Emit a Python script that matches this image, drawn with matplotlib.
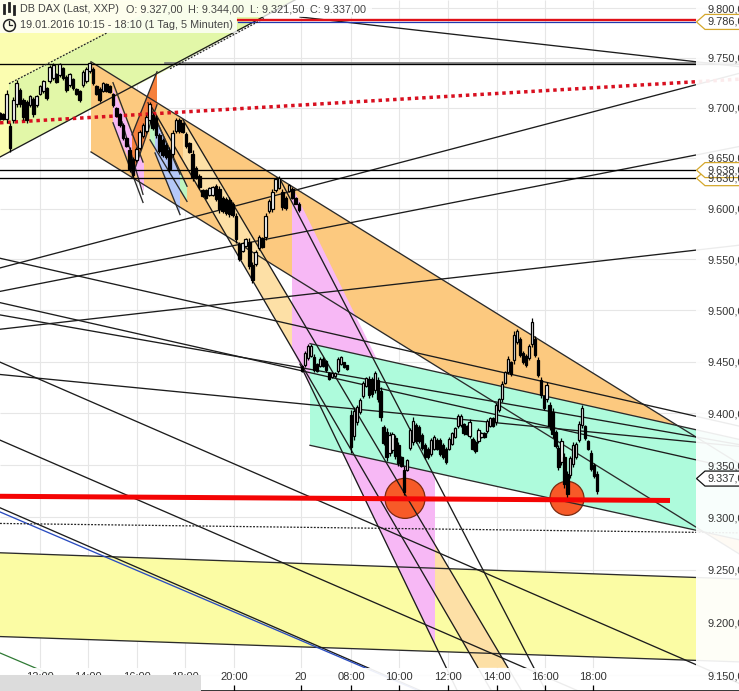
"""DAX 5-minute candle chart with hand drawn channels and trend lines."""

import matplotlib

matplotlib.use("Agg")
import matplotlib.pyplot as plt
import numpy as np
from matplotlib.patches import Polygon, Rectangle
from matplotlib.ticker import NullLocator

WIDTH, HEIGHT = 739, 691
PLOT_RIGHT = 696
OUT_LIMIT = 790

# price scale
price_ticks = [9800, 9750, 9700, 9650, 9600, 9550, 9500, 9450, 9400, 9350, 9300, 9250, 9200, 9150]
price_labels = ["9.800,00", "9.750,00", "9.700,00", "9.650,00", "9.600,00", "9.550,00", "9.500,00",
                "9.450,00", "9.400,00", "9.350,00", "9.300,00", "9.250,00", "9.200,00", "9.150,00"]
# session axis, one unit is a little under half of a 5 minute bar
time_ticks = [40, 88, 137, 185, 234, 301, 351, 399, 448, 497, 545, 593]
time_labels = ["12:00", "14:00", "16:00", "18:00", "20:00", "20", "08:00", "10:00", "12:00", "14:00", "16:00", "18:00"]

# candles, 18 Jan
highs_day1 = [9696, 9695, 9718, 9685, 9711, 9728, 9720, 9710, 9708, 9713, 9711, 9713, 9723, 9728, 9721, 9743,
              9745, 9735, 9745, 9741, 9733, 9735, 9730, 9720, 9718, 9738, 9741, 9746, 9741, 9723, 9721, 9726,
              9725, 9723, 9715, 9701, 9695, 9685, 9671, 9661, 9651, 9661, 9678, 9685, 9693, 9706, 9695, 9693,
              9675, 9670, 9665, 9661, 9678, 9690, 9690, 9686, 9676, 9666, 9658, 9642, 9634, 9619, 9619, 9621,
              9622, 9624, 9622, 9612, 9611, 9611, 9606, 9596, 9567, 9567, 9571, 9571, 9547, 9559, 9574, 9572,
              9596, 9609, 9619, 9631, 9632, 9619, 9612, 9624, 9621, 9611, 9606]
lows_day1 = [9688, 9688, 9685, 9656, 9685, 9701, 9701, 9688, 9685, 9701, 9691, 9701, 9713, 9715, 9708, 9725,
             9728, 9725, 9731, 9728, 9716, 9721, 9718, 9713, 9706, 9721, 9725, 9735, 9723, 9713, 9706, 9716,
             9716, 9715, 9701, 9691, 9681, 9668, 9661, 9636, 9631, 9646, 9658, 9670, 9675, 9685, 9678, 9670,
             9655, 9651, 9649, 9636, 9651, 9675, 9675, 9675, 9660, 9655, 9627, 9629, 9619, 9611, 9609, 9612,
             9612, 9607, 9596, 9596, 9594, 9592, 9592, 9566, 9548, 9557, 9562, 9540, 9527, 9543, 9559, 9561,
             9569, 9596, 9597, 9616, 9619, 9599, 9599, 9616, 9609, 9604, 9597]

# candles, 19 Jan pre-market
highs_early = [9447, 9460, 9467, 9467, 9457, 9449, 9454, 9454, 9452, 9440, 9440, 9440, 9454, 9455, 9450, 9447]
lows_early = [9440, 9445, 9452, 9454, 9440, 9440, 9445, 9445, 9440, 9432, 9434, 9435, 9439, 9447, 9444, 9442]

# candles, 19 Jan from the open
highs_main = [9403, 9406, 9408, 9415, 9431, 9435, 9436, 9435, 9441, 9435, 9425, 9389, 9386, 9382, 9382, 9379,
              9372, 9359, 9349, 9356, 9386, 9396, 9391, 9389, 9381, 9371, 9367, 9376, 9379, 9376, 9376, 9371,
              9367, 9377, 9382, 9387, 9399, 9399, 9391, 9389, 9394, 9377, 9374, 9386, 9382, 9382, 9394, 9396,
              9396, 9410, 9415, 9431, 9441, 9455, 9451, 9480, 9482, 9474, 9460, 9457, 9467, 9492, 9475, 9454,
              9435, 9418, 9430, 9411, 9405, 9384, 9369, 9376, 9362, 9344, 9359, 9372, 9372, 9392, 9408, 9389,
              9374, 9364, 9352, 9344]
lows_main = [9362, 9374, 9389, 9399, 9415, 9425, 9415, 9416, 9420, 9411, 9392, 9369, 9354, 9359, 9362, 9356,
             9349, 9348, 9321, 9344, 9364, 9369, 9371, 9371, 9364, 9356, 9356, 9359, 9364, 9364, 9359, 9356,
             9351, 9364, 9369, 9376, 9386, 9387, 9379, 9379, 9376, 9364, 9362, 9371, 9376, 9376, 9381, 9387,
             9387, 9389, 9401, 9411, 9428, 9438, 9436, 9448, 9467, 9454, 9448, 9445, 9452, 9464, 9454, 9435,
             9415, 9403, 9411, 9384, 9376, 9366, 9345, 9350, 9328, 9319, 9338, 9348, 9356, 9372, 9386, 9374,
             9364, 9344, 9338, 9322]

# horizontal levels
level_prices = [9743.5, 9638, 9630]
grey_level = 9744.5
grey_level_start = 165
alert_red, alert_blue = 9787.5, 9785.5
alert_start = 238

# trend lines: (x0, price0, x1, price1)
trend_lines = [
    (300, 9791, 696, 9746),
    (0, 9651, 263, 9791),
    (0, 9541.5, 696, 9723),
    (0, 9518.5, 696, 9653),
    (0, 9481.5, 696, 9559),
    (0, 9551, 696, 9397),
    (0, 9495.5, 696, 9377),
    (0, 9437.5, 696, 9372),
    (0, 9507.5, 696, 9355),
    (0, 9449.5, 696, 9160),
    (0, 9374, 525, 9157),
    (0, 9309, 368, 9157),
    (183, 9688, 508, 9157),
    (152, 9700, 478, 9157),
    (280, 9629, 435, 9338),
    (300, 9447.5, 435, 9179),
]
blue_line = (0, 9305, 365, 9157)
green_line = (0, 9171, 35, 9157)
red_dotted = (0, 9685, 696, 9726)
fine_dotted = [(9, 9724, 107, 9775), (170, 9739, 265, 9790), (0, 9294, 696, 9285.5)]
small_lines = [
    (113, 9725, 143, 9646), (113, 9685, 143, 9606), (122, 9686, 143, 9614),
    (132, 9673, 157, 9736), (132, 9631, 157, 9703),
    (148, 9705, 187, 9622), (150, 9668, 187, 9607),
    (155, 9691, 180, 9634), (155, 9655, 180, 9594),
]

# channels: upper and lower edge of each band
yellow_band = ((0, 9266, 696, 9242.5), (0, 9186.5, 696, 9164))
orange_band = ((91, 9746, 696, 9377), (91, 9656, 696, 9290.5))
green_band = ((310, 9467.5, 696, 9384), (310, 9369, 696, 9287.5))

# filled shapes: x values and price values
upper_yellow = ([0, 170, 9, 9, 0], [9808, 9808, 9724, 9656, 9651])
upper_lime = ([9, 170, 295, 163, 9], [9724, 9808, 9808, 9736, 9656])
small_pink = ([113, 144, 144, 113], [9720, 9644, 9617, 9683])
small_red = ([132, 157, 157, 132], [9673, 9736, 9703, 9631])
small_green = ([148, 187, 187, 150], [9705, 9622, 9607, 9668])
small_blue = ([155, 180, 180, 155], [9691, 9634, 9594, 9655])
cream_shape = ([183, 508, 478, 183], [9688, 9157, 9157, 9648])
pink_shape = ([292, 435, 435, 292], [9622, 9338, 9179, 9462.5])

support_line = (0, 9320, 670, 9316)
circle_x = [405, 567]
circle_price = [9318, 9318]
circle_size = [830, 600]

# price tags on the right axis
tag_prices = [9786, 9630, 9638, 9337]
tag_labels = ["9.786,00", "9.630,00", "9.638,00", "9.337,00"]
tag_colours = ["#d4a72c", "#d4a72c", "#d4a72c", "#111111"]

# header text and where each piece starts
header_pieces = ["DB DAX (Last, XXP)", "O: 9.327,00", "H: 9.344,00", "L: 9.321,50", "C: 9.337,00"]
header_starts = [20, 126, 188, 250, 310]
header_line2 = "19.01.2016 10:15 - 18:10 (1 Tag, 5 Minuten)"


def extended(segment, x_new=OUT_LIMIT):
    """Carry a segment on to x_new, straight on the log price axis."""
    x0, p0, x1, p1 = segment
    slope = (np.log(p1) - np.log(p0)) / (x1 - x0)
    return [x0, x_new], [p0, float(np.exp(np.log(p0) + slope * (x_new - x0)))]


def draw_band(ax, band, colour, zorder=1.0):
    """Fill a parallel channel and stroke its two edges."""
    (xs_top, ps_top), (xs_bot, ps_bot) = extended(band[0]), extended(band[1])
    ax.fill(xs_top + xs_bot[::-1], ps_top + ps_bot[::-1], color=colour, lw=0, zorder=zorder)
    for xs, ps in (extended(band[0]), extended(band[1])):
        ax.plot(xs, ps, color="#2b2b2b", lw=0.95, zorder=1.5)


def draw_candles(ax, xs, highs, lows, width):
    """Draw candles, hollow when the bar sits above the one before it."""
    highs, lows = np.asarray(highs, float), np.asarray(lows, float)
    mids = (highs + lows) / 2
    for i, x in enumerate(xs):
        rising = i > 0 and mids[i] > mids[i - 1]
        inset = (highs[i] - lows[i]) * 0.12
        ax.vlines(x, lows[i], highs[i], color="black", lw=0.9, zorder=2)
        ax.bar(x, highs[i] - lows[i] - 2 * inset, bottom=lows[i] + inset, width=width,
               facecolor="white" if rising else "black", edgecolor="black", linewidth=0.9, zorder=2.1)


def main():
    plt.rcParams["font.family"] = ["Liberation Sans", "DejaVu Sans"]
    figure = plt.figure(figsize=(WIDTH / 100, HEIGHT / 100), dpi=100)
    ax = figure.add_axes([0, 0, 1, 1])
    ax.set_axisbelow(False)
    ax.set_yscale("log")
    ax.set_xlim(0, WIDTH)
    ax.set_ylim(9135.2, 9808.1)

    # grid sits under everything
    ax.hlines(price_ticks, 0, WIDTH, color="#e6e6e6", lw=0.8, zorder=0.5)
    ax.vlines(time_ticks, 9135.2, 9808.1, color="#e6e6e6", lw=0.8, zorder=0.5)

    # filled shapes, back to front
    ax.fill(*upper_yellow, color="#fbfdb0", lw=0, zorder=0.8)
    ax.fill(*upper_lime, color="#e2f7a8", lw=0, zorder=0.8)
    draw_band(ax, yellow_band, "#fbfca4", zorder=0.9)
    draw_band(ax, orange_band, "#fcc97f", zorder=1.0)
    ax.fill(*small_pink, color="#f7b8f5", lw=0, zorder=1.05)
    ax.fill(*small_red, color="#f5803c", lw=0, zorder=1.05)
    ax.fill(*small_green, color="#bff5c0", lw=0, zorder=1.05)
    ax.fill(*small_blue, color="#b5c8f8", lw=0, zorder=1.06)
    ax.fill(*cream_shape, color="#fde0a6", lw=0, zorder=1.1)
    ax.fill(*pink_shape, color="#f7b8f5", lw=0, zorder=1.15)
    draw_band(ax, green_band, "#aefbdc", zorder=1.2)

    ax.scatter(circle_x, circle_price, s=circle_size, color="#f75a28", edgecolor="#7a2a10",
               linewidth=0.9, zorder=1.3)

    # lines
    for segment in trend_lines:
        xs, ps = extended(segment)
        ax.plot(xs, ps, color="#1c1c1c", lw=0.95, zorder=1.5)
    for segment in small_lines:
        ax.plot(segment[::2], segment[1::2], color="#2b2b2b", lw=0.95, zorder=1.5)
    ax.plot([grey_level_start, OUT_LIMIT], [grey_level, grey_level], color="#777777", lw=1.2, zorder=1.49)
    for price in level_prices:
        ax.plot([0, OUT_LIMIT], [price, price], color="black", lw=0.95, zorder=1.5)
    ax.plot([alert_start, OUT_LIMIT], [alert_red, alert_red], color="#e01018", lw=1.7, zorder=1.52)
    ax.plot([alert_start, OUT_LIMIT], [alert_blue, alert_blue], color="#2038b0", lw=0.9, zorder=1.5)
    xs, ps = extended(blue_line)
    ax.plot(xs, ps, color="#2a4cc0", lw=0.95, zorder=1.5)
    xs, ps = extended(green_line)
    ax.plot(xs, ps, color="#2f7a35", lw=0.9, zorder=1.5)
    for segment in fine_dotted:
        xs, ps = (segment[::2], segment[1::2]) if segment[0] != 0 else extended(segment)
        ax.plot(xs, ps, color="#222222", lw=0.9, ls=(0, (1.5, 1.2)), zorder=1.5)
    xs, ps = extended(red_dotted)
    ax.plot(xs, ps, color="#d81020", lw=2.5, ls=(0, (1.0, 1.1)), zorder=1.6)
    ax.plot(support_line[::2], support_line[1::2], color="#f40404", lw=3.6, solid_capstyle="butt", zorder=1.7)

    # the right margin and the strip above the time axis wash the drawing out
    ax.axvspan(PLOT_RIGHT, WIDTH, color="white", alpha=0.92, lw=0, zorder=1.8)
    ax.axhspan(9135.2, 9157, xmax=PLOT_RIGHT / WIDTH, color="white", alpha=0.92, lw=0, zorder=1.8)

    # candles
    draw_candles(ax, np.linspace(0, 299, len(highs_day1)), highs_day1, lows_day1, 2.7)
    draw_candles(ax, np.linspace(302, 347, len(highs_early)), highs_early, lows_early, 2.3)
    draw_candles(ax, np.linspace(351, 597, len(highs_main)), highs_main, lows_main, 2.3)

    # axes
    for name, spine in ax.spines.items():
        spine.set_visible(name == "bottom")
    ax.spines["bottom"].set_linewidth(2.0)
    ax.spines["bottom"].set_color("#222222")
    ax.yaxis.tick_right()
    ax.yaxis.set_minor_locator(NullLocator())
    ax.set_yticks(price_ticks, price_labels)
    ax.set_xticks(time_ticks, time_labels)
    ax.tick_params(axis="y", which="both", length=0, pad=-23, labelsize=7.9, labelcolor="#333333")
    ax.tick_params(axis="x", direction="in", length=4, width=0.9, pad=-13.5, labelsize=8.0, labelcolor="#333333")

    # the grey corner that hides the older time labels
    ax.add_patch(Rectangle((0, 0), 201 / WIDTH, 16 / HEIGHT, transform=ax.transAxes,
                           facecolor="#dcdcdc", edgecolor="none", zorder=2.6))

    # price tags
    to_axes = ax.transAxes.inverted()
    for price, label, colour in zip(tag_prices, tag_labels, tag_colours):
        y = to_axes.transform(ax.transData.transform((0, price)))[1]
        half, tip = 7.5 / HEIGHT, 696.5 / WIDTH
        corners = [(tip, y), (705 / WIDTH, y + half), (1.02, y + half), (1.02, y - half), (705 / WIDTH, y - half)]
        ax.add_patch(Polygon(corners, closed=True, transform=ax.transAxes, facecolor="white",
                             edgecolor=colour, linewidth=0.9, zorder=3))
        ax.text(708 / WIDTH, y, label, transform=ax.transAxes, fontsize=7.9, color="#333333",
                va="center", ha="left", zorder=3.1)

    # header
    ax.add_patch(Rectangle((0, 1 - 17 / HEIGHT), 372 / WIDTH, 17 / HEIGHT, transform=ax.transAxes,
                           facecolor="white", alpha=0.78, edgecolor="none", zorder=4))
    ax.add_patch(Rectangle((0, 1 - 33 / HEIGHT), 237 / WIDTH, 16 / HEIGHT, transform=ax.transAxes,
                           facecolor="white", alpha=0.78, edgecolor="none", zorder=4))
    for start, piece in zip(header_starts, header_pieces):
        ax.text(start / WIDTH, 1 - 9 / HEIGHT, piece, transform=ax.transAxes, fontsize=7.8,
                color="#444444", va="center", zorder=5)
    ax.text(20 / WIDTH, 1 - 25 / HEIGHT, header_line2, transform=ax.transAxes, fontsize=7.8,
            color="#444444", va="center", zorder=5)
    for x_icon, top, bottom in ((4, 5, 13), (9, 3, 11), (14, 6, 14)):
        ax.plot([x_icon / WIDTH] * 2, [1 - top / HEIGHT, 1 - bottom / HEIGHT], transform=ax.transAxes,
                color="#222222", lw=2.0, zorder=5)
    ax.plot([9 / WIDTH], [1 - 25 / HEIGHT], "o", ms=8.5, mfc="none", mec="#222222", mew=1.1,
            transform=ax.transAxes, zorder=5)
    ax.plot([9 / WIDTH, 9 / WIDTH, 12 / WIDTH], [1 - 21 / HEIGHT, 1 - 25 / HEIGHT, 1 - 25 / HEIGHT],
            color="#222222", lw=0.9, transform=ax.transAxes, zorder=5)

    figure.savefig("out.png", dpi=100)
    plt.close(figure)


if __name__ == "__main__":
    main()
